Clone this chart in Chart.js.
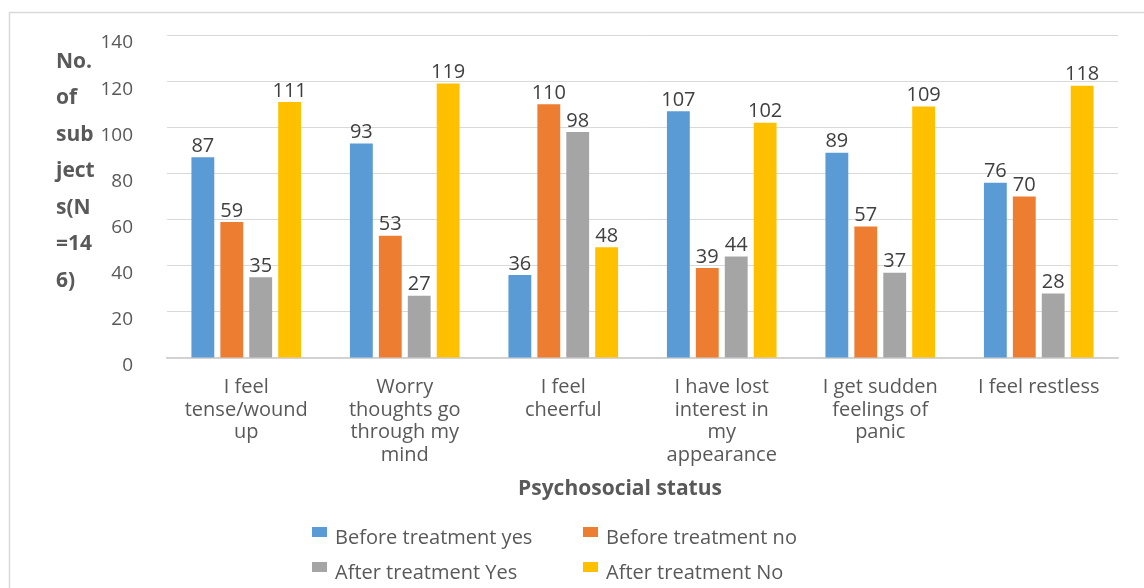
<!DOCTYPE html>
<html>
<head>
<meta charset="utf-8">
<script src="https://cdn.jsdelivr.net/npm/chart.js@4/dist/chart.umd.min.js"></script>
<style>
html,body{margin:0;padding:0;background:#fff;}
#wrap{position:relative;width:1144px;height:588px;}
</style>
</head>
<body>
<div id="wrap"><canvas id="c" width="1144" height="588"></canvas></div>
<script>
const categories = [
  ["I feel", "tense/wound", "up"],
  ["Worry", "thoughts go", "through my", "mind"],
  ["I feel", "cheerful"],
  ["I have lost", "interest in", "my", "appearance"],
  ["I get sudden", "feelings of", "panic"],
  ["I feel restless"]
];
const seriesNames = ["Before treatment yes", "Before treatment no", "After treatment Yes", "After treatment No"];
const beforeYes = [87, 93, 36, 107, 89, 76];
const beforeNo  = [59, 53, 110, 39, 57, 70];
const afterYes  = [35, 27, 98, 44, 37, 28];
const afterNo   = [111, 119, 48, 102, 109, 118];
const colors = ["#5B9BD5", "#ED7D31", "#A5A5A5", "#FFC000"];
const yTitleLines = ["No.", "of", "sub", "ject", "s(N", "=14", "6)"];
const xTitle = "Psychosocial status";
const FONT = "'Open Sans', sans-serif";

const seriesValues = [beforeYes, beforeNo, afterYes, afterNo];

const decor = {
  id: 'decor',
  beforeDraw(chart) {
    const ctx = chart.ctx;
    ctx.save();
    ctx.strokeStyle = '#d9d9d9';
    ctx.lineWidth = 1.5;
    ctx.strokeRect(9.5, 12.5, 1200, 700);
    ctx.restore();
  },
  afterDatasetsDraw(chart) {
    const ctx = chart.ctx;
    ctx.save();
    // data labels
    ctx.font = "20px " + FONT;
    ctx.fillStyle = '#404040';
    ctx.textAlign = 'center';
    ctx.textBaseline = 'bottom';
    chart.data.datasets.forEach((ds, i) => {
      const meta = chart.getDatasetMeta(i);
      meta.data.forEach((bar, j) => {
        ctx.fillText(String(ds.data[j]), bar.x, bar.y - 1);
      });
    });
    // y title
    ctx.font = "bold 21px " + FONT;
    ctx.fillStyle = '#595959';
    ctx.textAlign = 'left';
    ctx.textBaseline = 'middle';
    yTitleLines.forEach((t, k) => {
      ctx.fillText(t, 56, 62 + k * 36.5);
    });
    // x title
    ctx.font = "bold 21px " + FONT;
    ctx.textAlign = 'center';
    ctx.fillText(xTitle, 620, 489);
    // legend
    ctx.font = "20px " + FONT;
    ctx.textAlign = 'left';
    const colX = [312, 583];
    const rowY = [538, 573];
    chart.data.datasets.forEach((ds, i) => {
      const cx = colX[i % 2], cy = rowY[Math.floor(i / 2)];
      ctx.fillStyle = ds.backgroundColor;
      ctx.fillRect(cx, cy - 11, 15, 10);
      ctx.fillStyle = '#595959';
      ctx.fillText(ds.label, cx + 23, cy);
    });
    ctx.restore();
  }
};

new Chart(document.getElementById('c'), {
  type: 'bar',
  data: {
    labels: categories,
    datasets: seriesNames.map((n, i) => ({
      label: n,
      data: seriesValues[i],
      backgroundColor: colors[i],
      borderWidth: 0,
      categoryPercentage: 0.73,
      barPercentage: 0.79
    }))
  },
  options: {
    responsive: false,
    animation: false,
    layout: { padding: { top: 35, right: 26, left: 0, bottom: 0 } },
    plugins: { legend: { display: false }, tooltip: { enabled: false } },
    scales: {
      x: {
        grid: { display: false, drawTicks: false },
        border: { display: true, color: '#d0d0d0', width: 1.5 },
        ticks: {
          color: '#595959',
          font: { family: FONT, size: 20, lineHeight: 1.13 },
          padding: 18,
          maxRotation: 0,
          autoSkip: false
        },
        afterFit(s) { s.height = 588 - 358; s.paddingTop = 0; s.paddingBottom = 0; s.paddingLeft = 0; s.paddingRight = 0; }
      },
      y: {
        min: 0, max: 140,
        grid: { color: '#d9d9d9', lineWidth: 1, drawTicks: false },
        border: { display: false },
        ticks: {
          stepSize: 20,
          color: '#595959',
          font: { family: FONT, size: 19 },
          padding: 34,
          labelOffset: 8
        },
        afterFit(s) { s.width = 167; s.paddingTop = 0; s.paddingBottom = 0; }
      }
    }
  },
  plugins: [decor]
});
</script>
</body>
</html>
